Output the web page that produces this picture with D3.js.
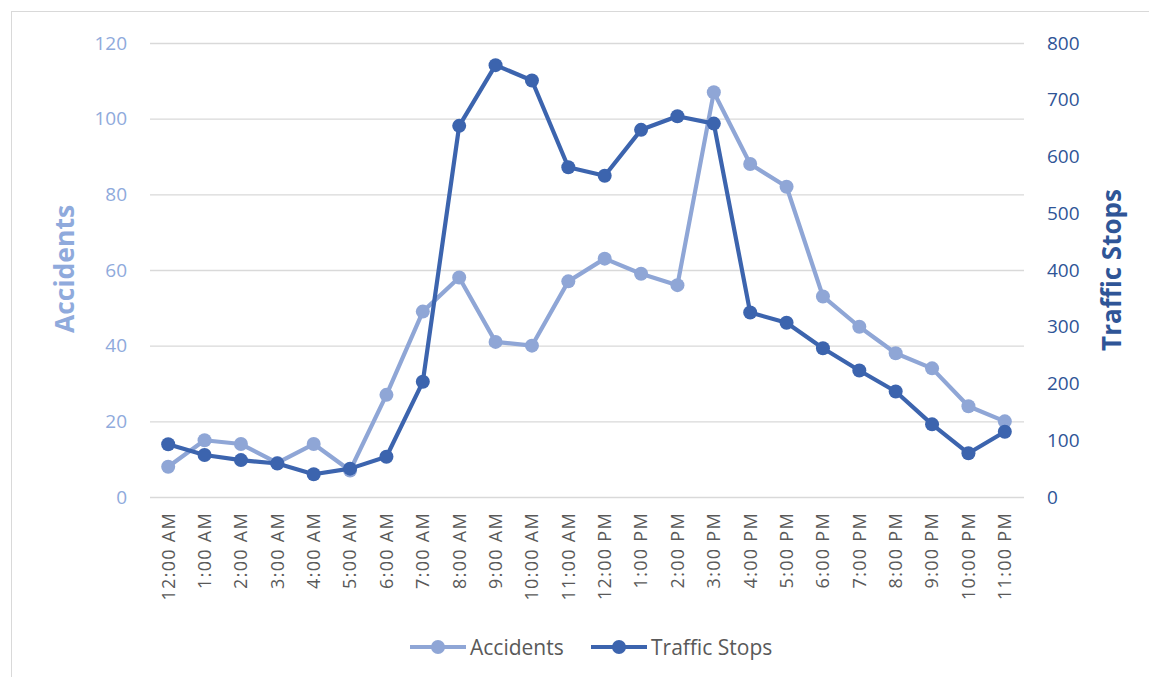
<!DOCTYPE html>
<html><head><meta charset="utf-8">
<script src="https://cdn.jsdelivr.net/npm/d3@7"></script>
<style>body{margin:0;background:#fff;} svg{display:block;}</style>
</head><body>
<svg id="c" width="1149" height="677"></svg>
<script>
const categories = ["12:00 AM","1:00 AM","2:00 AM","3:00 AM","4:00 AM","5:00 AM","6:00 AM","7:00 AM","8:00 AM","9:00 AM","10:00 AM","11:00 AM","12:00 PM","1:00 PM","2:00 PM","3:00 PM","4:00 PM","5:00 PM","6:00 PM","7:00 PM","8:00 PM","9:00 PM","10:00 PM","11:00 PM"];
const accidents = [8,15,14,9,14,7,27,49,58,41,40,57,63,59,56,107,88,82,53,45,38,34,24,20];
const trafficStops = [93,74,65,59,40,50,71,203,654,761,734,581,566,647,671,658,325,307,262,223,186,128,77,115];
const leftTicks = [0,20,40,60,80,100,120];
const rightTicks = [0,100,200,300,400,500,600,700,800];
const seriesNames = ["Accidents","Traffic Stops"];

const colA = "#8FA6D6", colT = "#3C64AE";
const svg = d3.select("#c");
const font = "'Open Sans','Liberation Sans',sans-serif";

svg.append("rect").attr("x",11.5).attr("y",11.5).attr("width",1160).attr("height",700)
  .attr("fill","none").attr("stroke","#d9d9d9").attr("stroke-width",1);

const L=150, R=1023, T=43, B=497;
const x = d3.scaleBand().domain(categories).range([L,R]);
const yL = d3.scaleLinear().domain([0,120]).range([B,T]);
const yR = d3.scaleLinear().domain([0,800]).range([B,T]);

// gridlines
svg.append("g").selectAll("line").data(leftTicks).join("line")
  .attr("x1",L).attr("x2",R+1).attr("y1",d=>yL(d)+0.5).attr("y2",d=>yL(d)+0.5)
  .attr("stroke","#d9d9d9").attr("stroke-width",1.3);

// left axis
const gl = svg.append("g").attr("transform",`translate(127,0)`)
  .call(d3.axisLeft(yL).tickValues(leftTicks).tickSize(0).tickPadding(0));
gl.select(".domain").remove();
gl.selectAll("text").attr("fill","#8FAADC").style("font-family",font).style("font-size","19px");

// right axis
const gr = svg.append("g").attr("transform",`translate(1047,0)`)
  .call(d3.axisRight(yR).tickValues(rightTicks).tickSize(0).tickPadding(0));
gr.select(".domain").remove();
gr.selectAll("text").attr("fill","#2F5597").style("font-family",font).style("font-size","19px");

// x axis labels
const gx = svg.append("g").attr("transform",`translate(0,${B+15})`)
  .call(d3.axisBottom(x).tickSize(0).tickPadding(0));
gx.select(".domain").remove();
gx.selectAll("text").attr("fill","#595959").style("font-family",font).style("font-size","18px")
  .style("letter-spacing","1.3px")
  .attr("transform","rotate(-90)").attr("text-anchor","end").attr("dy","0.35em").attr("x",0).attr("y",0);

// axis titles
svg.append("text").attr("transform",`translate(65,269) rotate(-90)`).attr("text-anchor","middle")
  .attr("dy","0.35em")
  .attr("fill","#8FAADC").style("font-family",font).style("font-weight","bold").style("font-size","26.5px").text("Accidents");
svg.append("text").attr("transform",`translate(1112,270) rotate(-90)`).attr("text-anchor","middle")
  .attr("dy","0.35em")
  .attr("fill","#2F5597").style("font-family",font).style("font-weight","bold").style("font-size","26px").text("Traffic Stops");

const cx = d => x(d)+x.bandwidth()/2;
function drawSeries(vals, y, col){
  const data = categories.map((c,i)=>({c, v: vals[i]}));
  svg.append("path").datum(data).attr("fill","none").attr("stroke",col).attr("stroke-width",4.2)
    .attr("stroke-linejoin","round")
    .attr("d", d3.line().x(d=>cx(d.c)).y(d=>y(d.v)));
  svg.append("g").selectAll("circle").data(data).join("circle")
    .attr("cx",d=>cx(d.c)).attr("cy",d=>y(d.v)).attr("r",7).attr("fill",col);
}
drawSeries(accidents, yL, colA);
drawSeries(trafficStops, yR, colT);

// legend
const leg = [{name:seriesNames[0], col:colA, x0:410},{name:seriesNames[1], col:colT, x0:591}];
leg.forEach(l=>{
  svg.append("line").attr("x1",l.x0).attr("x2",l.x0+56).attr("y1",647).attr("y2",647).attr("stroke",l.col).attr("stroke-width",4.2);
  svg.append("circle").attr("cx",l.x0+28).attr("cy",647).attr("r",7).attr("fill",l.col);
  svg.append("text").attr("x",l.x0+60).attr("y",647).attr("dy","0.36em").attr("fill","#595959")
    .style("font-family",font).style("font-size","21px").text(l.name);
});
</script>
</body></html>
